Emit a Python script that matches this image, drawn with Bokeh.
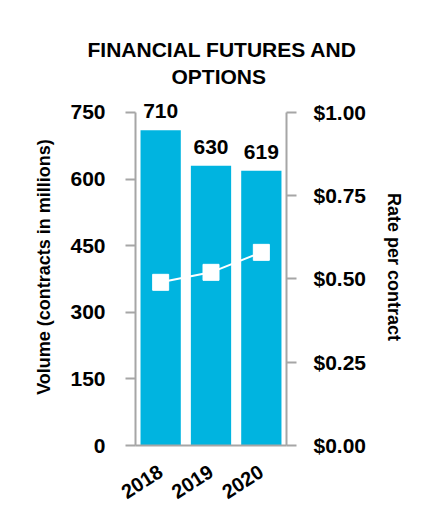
from bokeh.plotting import figure
from bokeh.models import (ColumnDataSource, LinearAxis, Range1d, FactorRange,
                          NumeralTickFormatter, FixedTicker, Title)
from bokeh.core.properties import value
from bokeh.embed import file_html
from bokeh.resources import INLINE

years = ["2018", "2019", "2020"]
volume = [710, 630, 619]
rate = [0.49, 0.52, 0.58]
vol_labels = ["710", "630", "619"]
vol_ticks = [0, 150, 300, 450, 600, 750]
rate_ticks = [0.0, 0.25, 0.5, 0.75, 1.0]
title_lines = ["FINANCIAL FUTURES AND", "OPTIONS"]

FONT = "Liberation Sans"
BAR = "#00B4E0"
AX = "#A6A6A6"

src = ColumnDataSource(dict(year=years, vol=volume, rate=rate, lab=vol_labels))

p = figure(width=432, height=524, x_range=FactorRange(factors=years, range_padding=0),
           y_range=Range1d(0, 804), output_backend="svg", toolbar_location=None,
           min_border_left=135, min_border_right=146, min_border_top=88,
           min_border_bottom=79, title=None)
p.extra_y_ranges = {"rate": Range1d(0, 804 / 750)}
p.outline_line_color = None
p.xgrid.visible = False
p.ygrid.visible = False

# invisible spacer between frame and title block
p.add_layout(Title(text=".", text_font_size="1px", text_alpha=0, standoff=8), "above")
for line, so, off in zip(reversed(title_lines), (2, 2), (36, -48)):
    t = Title(text=line, align="left", offset=off,
              text_font=FONT, text_font_size="21px", text_font_style="bold",
              text_color="black", standoff=so)
    p.add_layout(t, "above")

p.vbar(x="year", top="vol", width=0.8, source=src, fill_color=BAR, line_color=None)
p.text(x="year", y="vol", text="lab", source=src, text_align="center",
       text_baseline="alphabetic", y_offset=-19, text_font=value(FONT),
       text_font_size="21px", text_font_style="bold", text_color="black")
p.line(x="year", y="rate", source=src, y_range_name="rate", line_color="white",
       line_width=2)
p.scatter(x="year", y="rate", source=src, y_range_name="rate", marker="square",
          size=16, fill_color="white", line_color="white")

ya = p.yaxis[0]
ya.ticker = FixedTicker(ticks=vol_ticks)
ya.bounds = (0, 750)
ya.axis_label = "Volume (contracts in millions)"

ra = LinearAxis(y_range_name="rate", ticker=FixedTicker(ticks=rate_ticks),
                bounds=(0, 1), formatter=NumeralTickFormatter(format="$0.00"),
                axis_label="Rate per contract")
p.add_layout(ra, "right")

for ax, so, lso in ((ya, 20, 13), (ra, 17, 15)):
    ax.axis_line_color = AX
    ax.axis_line_width = 2
    ax.major_tick_line_color = AX
    ax.major_tick_line_width = 2
    ax.major_tick_out = 10
    ax.major_tick_in = 0
    ax.minor_tick_line_color = None
    ax.major_label_text_font = FONT
    ax.major_label_text_font_size = "21px"
    ax.major_label_text_font_style = "bold"
    ax.major_label_text_color = "black"
    ax.major_label_standoff = so
    ax.axis_label_text_font = FONT
    ax.axis_label_text_font_size = "18px"
    ax.axis_label_text_font_style = "bold"
    ax.axis_label_text_color = "black"
    ax.axis_label_standoff = lso

xa = p.xaxis[0]
xa.axis_line_color = AX
xa.axis_line_width = 2
xa.major_tick_line_color = None
xa.minor_tick_line_color = None
xa.major_label_orientation = 0.57
xa.major_label_text_font = FONT
xa.major_label_text_font_size = "20px"
xa.major_label_text_font_style = "bold"
xa.major_label_text_color = "black"
xa.major_label_standoff = 18

open("out.html", "w").write(file_html(p, INLINE))
